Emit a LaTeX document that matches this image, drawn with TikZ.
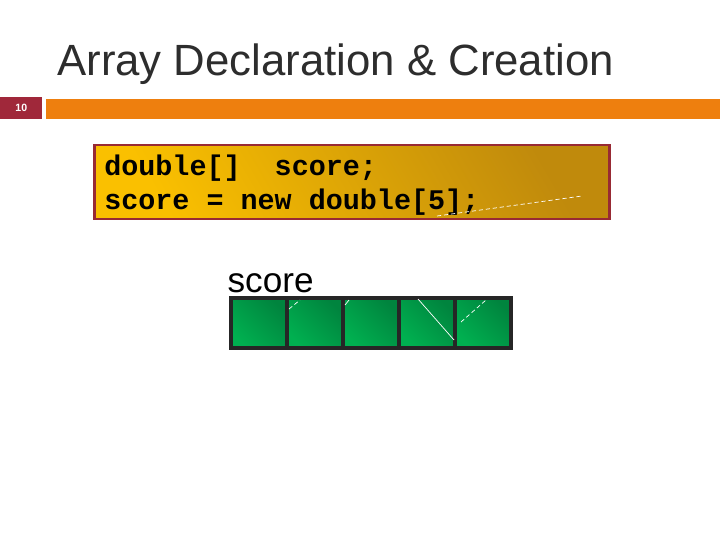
\documentclass[tikz,border=0pt]{standalone}
\usepackage{fontspec}
\setmainfont{Liberation Sans}
\setmonofont{Liberation Mono}
\usepackage{xcolor}
\usetikzlibrary{positioning}

\definecolor{slidered}{RGB}{160,40,58}
\definecolor{slideorange}{RGB}{238,127,14}
\definecolor{titlegray}{RGB}{45,45,45}
\definecolor{codeborder}{RGB}{152,42,52}
\definecolor{codetop}{RGB}{250,192,0}
\definecolor{codebot}{RGB}{192,138,12}
\definecolor{cellgreen}{RGB}{0,176,80}
\definecolor{celldark}{RGB}{0,132,62}
\definecolor{cellborder}{RGB}{38,38,38}

\tikzset{
  codebox/.style={draw=codeborder, line width=2.1pt, left color=codetop,
    right color=codebot, shading angle=120, inner sep=0pt, outer sep=0pt,
    minimum width=12.85cm, minimum height=1.85cm},
  codeline/.style={font=\fontsize{20.2}{24}\selectfont\ttfamily\bfseries,
    inner sep=0pt, anchor=base west},
  cellbox/.style={draw=cellborder, line width=2.8pt, left color=cellgreen,
    right color=celldark, shading angle=135, outer sep=0pt, inner sep=0pt,
    minimum width=1.4cm, minimum height=1.25cm},
  guide/.style={white, line width=0.5pt}
}

\begin{document}
\begin{tikzpicture}[x=0.025cm, y=-0.025cm]
  % page frame
  \useasboundingbox (0,0) rectangle (720,540);
  \fill[white] (0,0) rectangle (720,540);

  % title
  \node[anchor=base west, inner sep=0pt, text=titlegray,
    font=\fontsize{31.1}{36}\selectfont] (title) at (57,75)
    {Array Declaration \& Creation};

  % slide number and bar
  \node[fill=slidered, minimum width=1.05cm, minimum height=0.55cm,
    inner sep=0pt, anchor=north west, text=white,
    font=\fontsize{7.5}{9}\selectfont\bfseries] (slidenum) at (0,97) {10};
  \node[fill=slideorange, minimum width=16.85cm, minimum height=0.5cm,
    inner sep=0pt, anchor=north west] (bar) at (46,99) {};

  % code box
  \node[codebox] (code) at (352,182) {};
  \node[codeline] (decl) at (104,175) {double[]\ \ score;};
  \node[codeline] (creat) at (104,209) {score = new double[5];};
  \draw[guide, dash pattern=on 3pt off 2pt] (437,216) -- (582,196);

  % the array cells
  \node[cellbox] (cell1) at (259,323) {};
  \foreach \i [count=\j from 1] in {2,...,5}
    \node[cellbox, right=0pt of cell\j] (cell\i) {};
  \node[above right=3.5pt and -2.6pt of cell1.north west, inner sep=0pt,
    font=\fontsize{25}{28}\selectfont] (arrname) {score};

  % stray guide lines on the cells
  \draw[guide, dash pattern=on 3pt off 2pt] (289,309) -- (300,300);
  \draw[guide] (345,305) -- (349,300);
  \draw[guide] (418,299) -- (454,340);
  \draw[guide, dash pattern=on 3pt off 2pt] (461,322) -- (486,300);
\end{tikzpicture}
\end{document}
